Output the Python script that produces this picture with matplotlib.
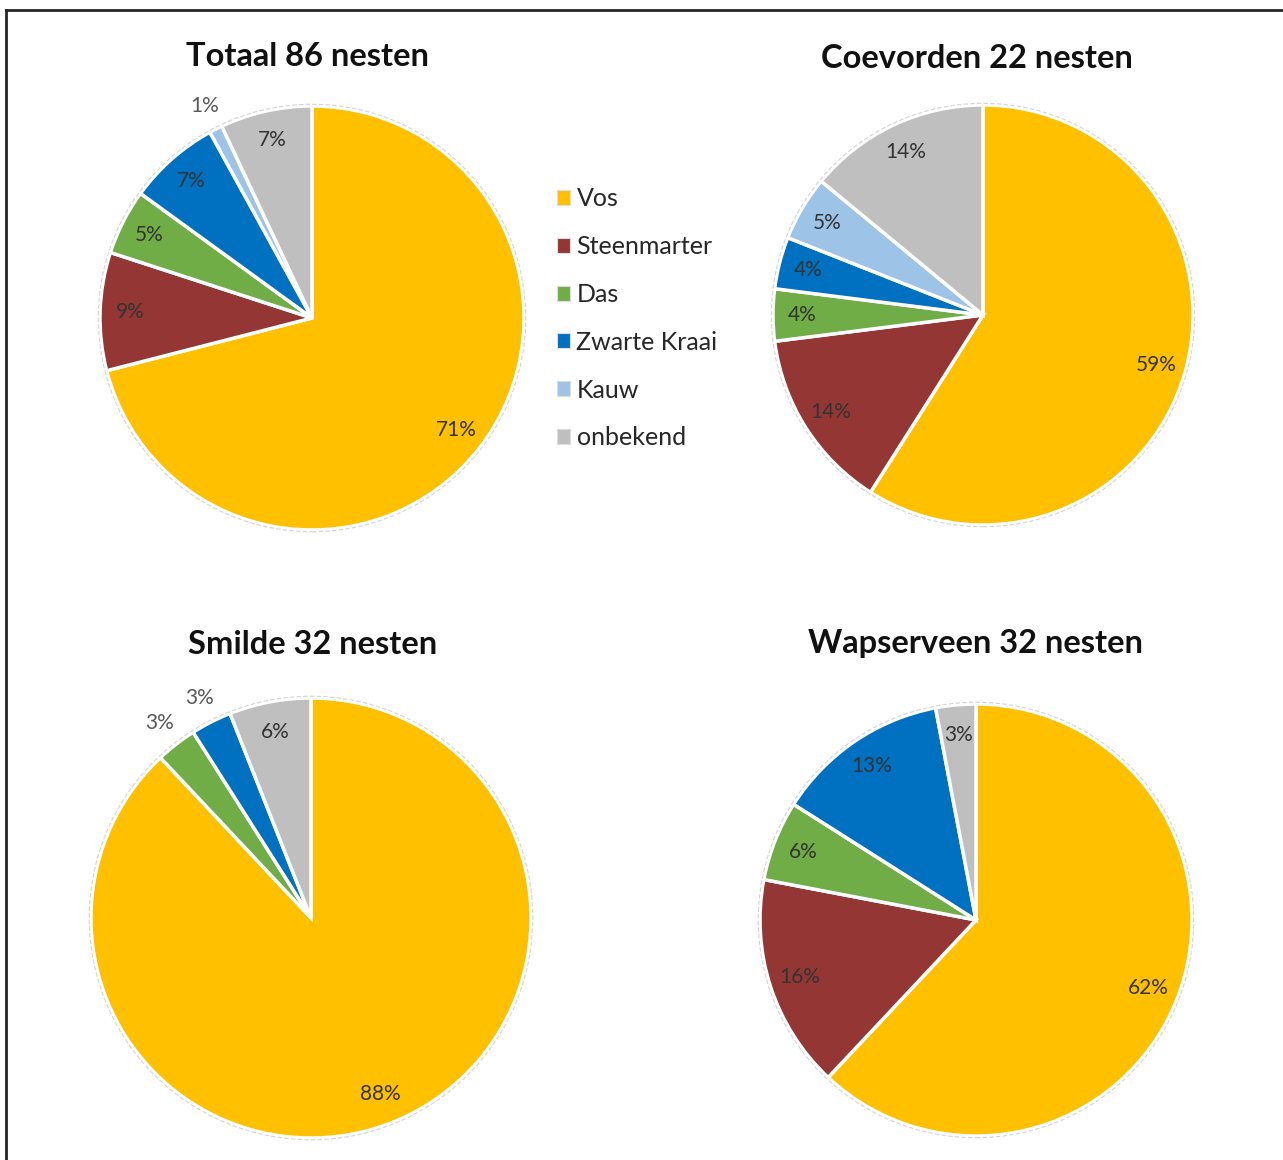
import numpy as np
import matplotlib
matplotlib.use("Agg")
import matplotlib.pyplot as plt
from matplotlib.patches import Patch, Circle
from matplotlib.lines import Line2D

plt.rcParams['font.family'] = ['Lato', 'DejaVu Sans']

categories = ["Vos", "Steenmarter", "Das", "Zwarte Kraai", "Kauw", "onbekend"]
colors = ["#FFC000", "#943634", "#70AD47", "#0070C0", "#9DC3E6", "#BFBFBF"]

titles = ["Totaal 86 nesten", "Coevorden 22 nesten", "Smilde 32 nesten", "Wapserveen 32 nesten"]
totaal = [71, 9, 5, 7, 1, 7]
coevorden = [59, 14, 4, 4, 5, 14]
smilde = [88, 0, 3, 3, 0, 6]
wapserveen = [62, 16, 6, 13, 0, 3]
series = [totaal, coevorden, smilde, wapserveen]

W, H = 1283, 1160
DPI = 100
fig = plt.figure(figsize=(W / DPI, H / DPI), dpi=DPI)
fig.patch.set_facecolor("white")

# pie centres, radii and title positions in pixels (origin top-left)
pies = [
    dict(cx=312, cy=318, r=212, tx=307, ty=57),
    dict(cx=983, cy=315, r=210, tx=977, ty=58),
    dict(cx=311, cy=918, r=220, tx=313, ty=644),
    dict(cx=976, cy=920, r=216, tx=975, ty=644),
]

for spec, values, title in zip(pies, series, titles):
    cx, cy, r = spec["cx"], spec["cy"], spec["r"]
    ax = fig.add_axes([(cx - r) / W, 1 - (cy + r) / H, 2 * r / W, 2 * r / H])
    ax.axis("off")

    shown = [(v, c) for v, c in zip(values, colors) if v > 0]
    vals = [v for v, _ in shown]
    cols = [c for _, c in shown]
    wedges, _ = ax.pie(vals, colors=cols, startangle=90, counterclock=False,
                       radius=1.0,
                       wedgeprops=dict(edgecolor="white", linewidth=2.5))
    ax.set_xlim(-1, 1)
    ax.set_ylim(-1, 1)
    ax.set_aspect("equal")
    ax.add_patch(Circle((0, 0), 1.008, fill=False, edgecolor="#d4d4d4",
                        linewidth=0.8, linestyle=(0, (4, 2)), clip_on=False))

    for w, v in zip(wedges, vals):
        mid = np.deg2rad((w.theta1 + w.theta2) / 2)
        outside = v <= 3 and title != "Wapserveen 32 nesten"
        dist = 1.12 if outside else 0.86
        col = "#595959" if outside else "#333333"
        ax.text(dist * np.cos(mid), dist * np.sin(mid), f"{v}%",
                ha="center", va="center", fontsize=15, color=col, clip_on=False)

    fig.text(spec["tx"] / W, 1 - spec["ty"] / H, title, ha="center", va="center",
             fontsize=23.5, fontweight="bold", color="#111111")

handles = [Patch(facecolor=c, edgecolor="#dddddd", linewidth=0.8) for c in colors]
fig.legend(handles, categories, loc="upper left",
           bbox_to_anchor=(534 / W, 1 - 165 / H), frameon=False,
           fontsize=18, labelspacing=0.99, handlelength=0.55, handleheight=0.55,
           handletextpad=0.25, labelcolor="#262626")

# outer frame (left and top edges)
fig.add_artist(Line2D([6 / W, 6 / W], [0, 1 - 10 / H], color="#262626", linewidth=2,
                      transform=fig.transFigure))
fig.add_artist(Line2D([6 / W, 1], [1 - 10 / H, 1 - 10 / H], color="#262626", linewidth=2,
                      transform=fig.transFigure))

fig.savefig("out.png", dpi=DPI, facecolor="white")
